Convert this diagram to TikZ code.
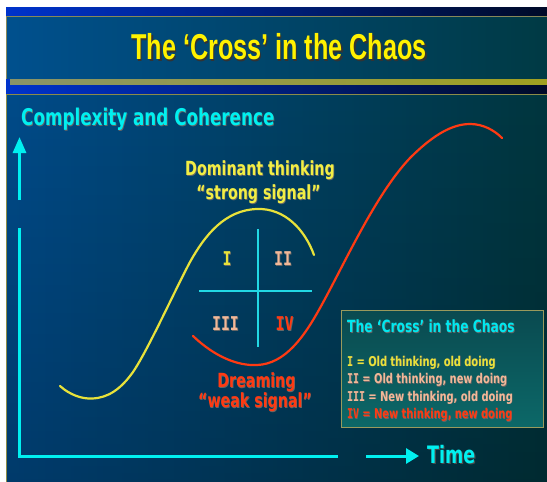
\documentclass[tikz,border=0pt]{standalone}
\usepackage{fontspec}
\usepackage{graphicx}
\usetikzlibrary{arrows.meta,fadings}
\newfontfamily\tahoma{DejaVu Sans}
\newfontfamily\heads{Liberation Sans}
\newfontfamily\numfont{DejaVu Sans Mono}
% horizontally condensed text
\newcommand\narrow[1]{\scalebox{0.73}[1]{#1}}
% text with a dark drop shadow: offset, shadow colour, text
\newcommand\shadowed[3]{\makebox[0pt][l]{\hspace*{#1}\raisebox{-#1}{\color{#2}#3}}#3}
\definecolor{bandblue}{HTML}{0033CC}
\definecolor{banddark}{HTML}{000A28}
\definecolor{titleL}{HTML}{00508E}
\definecolor{titleR}{HTML}{003A44}
\definecolor{panelL}{HTML}{004B8A}
\definecolor{panelR}{HTML}{00363E}
\definecolor{olive}{HTML}{8C8C48}
\definecolor{barL}{HTML}{8A9468}
\definecolor{barR}{HTML}{A0A020}
\definecolor{axiscyan}{HTML}{00F0F0}
\definecolor{crosscyan}{HTML}{22D8E4}
\definecolor{sigyellow}{HTML}{E8E23A}
\definecolor{txtyellow}{HTML}{F2EE44}
\definecolor{sigred}{HTML}{FF3A12}
\definecolor{salmon}{HTML}{F2B898}
\definecolor{legendT}{HTML}{0A4A50}
\definecolor{legendB}{HTML}{0C6868}
\definecolor{legendedge}{HTML}{9A9A5C}
\definecolor{legendcyan}{HTML}{00E8F0}
\begin{document}
\begin{tikzpicture}[x=1pt,y=-1pt,
  axis/.style={draw=axiscyan,line width=3pt},
  crossline/.style={draw=crosscyan,line width=2pt},
  curve/.style={line width=2.2pt,line cap=round},
  lab/.style={inner sep=0pt,font=\tahoma\bfseries},
  numeral/.style={inner sep=0pt,anchor=base,font=\numfont\bfseries\fontsize{19}{22}\selectfont},
  legline/.style={lab,anchor=base west,font=\tahoma\bfseries\fontsize{13.5}{16}\selectfont},
  legendbox/.style={draw=legendedge,line width=1.2pt,top color=legendT,bottom color=legendB,
    minimum width=202pt,minimum height=117pt,inner sep=0pt}]
\useasboundingbox (0,0) rectangle (547,482);
\fill[white] (0,0) rectangle (547,482);
% header bands and title bar
\shade[left color=bandblue,right color=banddark] (6,7) rectangle (547,16);
\shade[left color=titleL,right color=titleR] (6,16) rectangle (547,79);
\draw[olive!70!gray,line width=0.8pt] (6.5,16.5) rectangle (549,79);
\shade[left color=bandblue,right color=banddark] (6,79) rectangle (547,94);
\shade[left color=barL,right color=barR] (10,79) rectangle (547,84);
% main panel
\shade[left color=panelL,right color=panelR] (6,94) rectangle (547,482);
\fill[black,opacity=0.22,path fading=north] (6,94) rectangle (547,482);
\draw[olive,line width=0.8pt] (6.5,483) -- (6.5,94.5) -- (549,94.5);

\node[anchor=base,inner sep=0pt,text=yellow] (title) at (279,59)
  {\heads\bfseries\fontsize{36}{40}\selectfont\scalebox{0.70}[1]{\shadowed{2pt}{black!80}{The ‘Cross’ in the Chaos}}};

% axes
\coordinate (yaTail) at (19.5,200);
\coordinate (yaTip) at (19.5,137);
\coordinate (yTop) at (19.5,228);
\coordinate (origin) at (19.5,456);
\coordinate (xEnd) at (338,456);
\coordinate (xaTail) at (366,456);
\coordinate (xaTip) at (419,456);
\draw[axis,-{Triangle[length=16pt,width=13pt]}] (yaTail) -- (yaTip);
\draw[axis] (yTop) -- (origin) -- (xEnd);
\draw[axis,-{Triangle[length=13pt,width=15pt]}] (xaTail) -- (xaTip);
\node[lab,anchor=base west,text=axiscyan,font=\tahoma\bfseries\fontsize{23}{26}\selectfont] (ylabel) at (21,125)
  {\narrow{\shadowed{1pt}{black!60}{Complexity and Coherence}}};
\node[lab,anchor=base west,text=axiscyan,font=\tahoma\bfseries\fontsize{24}{27}\selectfont] (xlabel) at (427,463)
  {\narrow{\shadowed{1.5pt}{black!70}{Time}}};

% the two signal curves
\draw[curve,sigyellow] (60,386) .. controls (70,395) and (82,399) .. (92,398.5)
  .. controls (108,398) and (121,389) .. (133,372)
  .. controls (148,350) and (175,290) .. (190,262)
  .. controls (205,235) and (225,210) .. (257,209)
  .. controls (285,208) and (305,230) .. (314,255);
\draw[curve,sigred] (193,336) .. controls (215,357) and (238,366) .. (257,365)
  .. controls (285,364) and (304,337) .. (320,308)
  .. controls (344,265) and (375,195) .. (410,158)
  .. controls (430,138) and (450,124) .. (470,124)
  .. controls (483,124) and (494,130) .. (502,138);

% the cross
\coordinate (cT) at (258,229);
\coordinate (cB) at (258,347);
\coordinate (cL) at (199,291);
\coordinate (cR) at (312,291);
\draw[crossline] (cT) -- (cB);
\draw[crossline] (cL) -- (cR);
\node[numeral,text=sigyellow] (q1) at (227,265) {\scalebox{0.78}[1]{\shadowed{1pt}{black!60}{I}}};
\node[numeral,text=salmon] (q2) at (283,265) {\scalebox{0.78}[1]{\shadowed{1pt}{black!60}{II}}};
\node[numeral,text=salmon] (q3) at (225.5,330) {\scalebox{0.78}[1]{\shadowed{1pt}{black!60}{III}}};
\node[numeral,text=sigred] (q4) at (284.5,330) {\scalebox{0.78}[1]{\shadowed{1pt}{black!60}{IV}}};

% signal labels
\node[lab,anchor=base,text=txtyellow,font=\tahoma\bfseries\fontsize{19.5}{22}\selectfont] (dom) at (260,175)
  {\narrow{\shadowed{1pt}{black!60}{Dominant thinking}}};
\node[lab,anchor=base,text=txtyellow,font=\tahoma\bfseries\fontsize{19.5}{22}\selectfont] (strong) at (258.5,199)
  {\narrow{\shadowed{1pt}{black!60}{“strong signal”}}};
\node[lab,anchor=base,text=sigred,font=\tahoma\bfseries\fontsize{19.5}{22}\selectfont] (dream) at (256.5,387)
  {\narrow{\shadowed{1pt}{black!60}{Dreaming}}};
\node[lab,anchor=base,text=sigred,font=\tahoma\bfseries\fontsize{19.5}{22}\selectfont] (weak) at (255,407)
  {\narrow{\shadowed{1pt}{black!60}{“weak signal”}}};

% legend
\node[legendbox,anchor=north west] (legend) at (341,310) {};
\node[lab,anchor=base west,text=legendcyan,font=\tahoma\bfseries\fontsize{16.8}{19}\selectfont] (legtitle) at (347,332)
  {\narrow{\shadowed{1pt}{black!60}{The ‘Cross’ in the Chaos}}};
\node[legline,text=sigyellow] (leg1) at (347,366) {\narrow{\shadowed{0.8pt}{black!60}{{\numfont I} = Old thinking, old doing}}};
\node[legline,text=salmon] (leg2) at (347,383.5) {\narrow{\shadowed{0.8pt}{black!60}{{\numfont II} = Old thinking, new doing}}};
\node[legline,text=salmon] (leg3) at (347,401) {\narrow{\shadowed{0.8pt}{black!60}{{\numfont III} = New thinking, old doing}}};
\node[legline,text=sigred] (leg4) at (347,418.5) {\narrow{\shadowed{0.8pt}{black!60}{{\numfont IV} = New thinking, new doing}}};
\end{tikzpicture}
\end{document}
